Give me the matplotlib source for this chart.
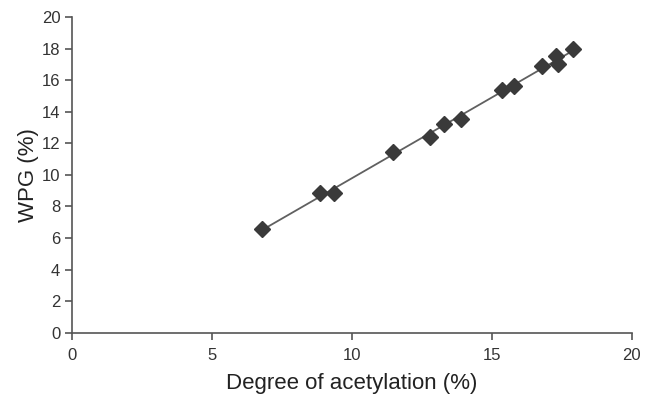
import matplotlib
matplotlib.use('Agg')
import matplotlib.pyplot as plt
import numpy as np

plt.rcParams['font.family'] = ['Liberation Sans', 'DejaVu Sans']

acetylation = [6.8, 8.85, 9.35, 11.47, 12.8, 13.3, 13.9, 15.35, 15.8, 16.8, 17.3, 17.36, 17.9]
wpg = [6.6, 8.88, 8.83, 11.44, 12.4, 13.23, 13.56, 15.39, 15.6, 16.9, 17.5, 17.03, 17.96]
x_ticks = [0, 5, 10, 15, 20]
y_ticks = [0, 2, 4, 6, 8, 10, 12, 14, 16, 18, 20]

fig = plt.figure(figsize=(6.5, 4.03), dpi=100)
ax = fig.add_axes([0.111, 0.174, 0.861, 0.784])

# linear trend line over the data range
slope, intercept = np.polyfit(acetylation, wpg, 1)
fit_x = np.array([min(acetylation), max(acetylation)])
ax.plot(fit_x, slope * fit_x + intercept, color='#606060', linewidth=1.3, zorder=2)
ax.plot(acetylation, wpg, linestyle='none', marker='D', markersize=8.5,
        color='#3a3a3a', markeredgecolor='#3a3a3a', zorder=3)

ax.set_xlim(0, 20)
ax.set_ylim(0, 20)
ax.set_xticks(x_ticks)
ax.set_yticks(y_ticks)
for side in ['top', 'right']:
    ax.spines[side].set_visible(False)
for side in ['left', 'bottom']:
    ax.spines[side].set_color('#555555')
    ax.spines[side].set_linewidth(1.2)
ax.tick_params(colors='#555555', labelcolor='#333333', labelsize=12, length=5, width=1.2)
ax.tick_params(axis='x', pad=6)

ax.set_xlabel('Degree of acetylation (%)', fontsize=16, color='#222222', labelpad=7)
ax.set_ylabel('WPG (%)', fontsize=16, color='#222222', labelpad=2)

fig.savefig('out.png', dpi=100)
